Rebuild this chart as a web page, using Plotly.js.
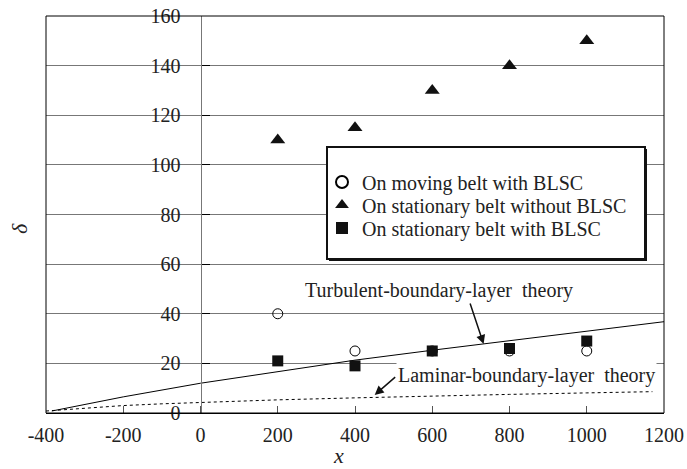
<!DOCTYPE html>
<html>
<head>
<meta charset="utf-8">
<script src="https://cdn.plot.ly/plotly-3.0.1.min.js"></script>
<style>html,body{margin:0;padding:0;background:#fff;}#chart{width:687px;height:469px;}</style>
</head>
<body>
<div id="chart"></div>
<script>
// Measured data
const xPos = [200, 400, 600, 800, 1000];
const movingWithBLSC = [40, 25, 25, 25, 25];
const stationaryWithoutBLSC = [110, 115, 130, 140, 150];
const stationaryWithBLSC = [21, 19, 25, 26, 29];

// Theory curves
const turbX = [-385, -200, 0, 200, 400, 600, 800, 1000, 1200];
const turbY = [0.8, 6.5, 12, 16.8, 21.3, 25.3, 29.2, 33, 36.8];
const lamX = [-400, -300, -200, -100, 0, 200, 400, 600, 800, 1000, 1170];
const lamY = [0.8, 2.0, 3.0, 3.7, 4.3, 5.3, 6.1, 6.9, 7.5, 8.1, 8.6];

const legendNames = ['On moving belt with BLSC', 'On stationary belt without BLSC', 'On stationary belt with BLSC'];
const xTicks = [-400, -200, 0, 200, 400, 600, 800, 1000, 1200];
const yTicks = [0, 20, 40, 60, 80, 100, 120, 140, 160];
const turbLabel = 'Turbulent-boundary-layer&nbsp; theory';
const lamLabel = 'Laminar-boundary-layer&nbsp; theory';

const FONT = 'Liberation Serif, Times New Roman, serif';
const FS = 20;

const traces = [
  {x: turbX, y: turbY, mode: 'lines', line: {color: '#000', width: 1}, showlegend: false, hoverinfo: 'skip'},
  {x: lamX, y: lamY, mode: 'lines', xaxis: 'x2', yaxis: 'y2', line: {color: '#000', width: 1, dash: 'dot'}, showlegend: false, hoverinfo: 'skip'},
  {x: xPos, y: movingWithBLSC, name: legendNames[0], mode: 'markers', legend: 'legend',
   marker: {symbol: 'circle-open', size: 10, color: '#000', line: {width: 1, color: '#000'}}},
  {x: xPos, y: stationaryWithoutBLSC, name: legendNames[1], mode: 'markers', legend: 'legend2',
   marker: {symbol: 'triangle-up', size: 13, color: '#111'}},
  {x: xPos, y: stationaryWithBLSC, name: legendNames[2], mode: 'markers', legend: 'legend3',
   marker: {symbol: 'square', size: 11, color: '#111'}}
];

const W = 618, H = 397;
function legendAt(cy) {
  return {
    x: (322 - 46) / W, y: (413 - cy) / H, xanchor: 'left', yanchor: 'middle',
    bgcolor: 'rgba(0,0,0,0)', borderwidth: 0,
    font: {family: FONT, size: FS, color: '#222'}, itemsizing: 'constant'
  };
}
const layout = {
  width: 687, height: 469,
  margin: {l: 46, r: 23, t: 16, b: 56},
  paper_bgcolor: '#fff', plot_bgcolor: '#fff',
  font: {family: FONT, size: FS, color: '#222'},
  // labelled axes (transparent outside ticks push the labels off the lines)
  xaxis: {
    range: [-400, 1200], tickvals: xTicks, ticktext: xTicks.map(String),
    showgrid: false, zeroline: false, showline: true, linecolor: '#000', linewidth: 1,
    ticks: 'outside', ticklen: 4, tickcolor: 'rgba(0,0,0,0)', tickfont: {family: FONT, size: FS, color: '#222'},
    fixedrange: true
  },
  yaxis: {
    range: [0, 160], tickvals: yTicks, ticktext: yTicks.map(String),
    anchor: 'free', position: 0.25, side: 'left',
    showgrid: true, gridcolor: '#777', gridwidth: 1, zeroline: false,
    showline: true, linecolor: '#777', linewidth: 1,
    ticks: 'outside', ticklen: 16, tickcolor: 'rgba(0,0,0,0)', tickfont: {family: FONT, size: FS, color: '#222'},
    fixedrange: true
  },
  // overlay axes that draw the short inside tick marks
  xaxis2: {
    range: [-400, 1200], tickvals: xTicks, overlaying: 'x', anchor: 'y2',
    showgrid: false, zeroline: false, showline: false, showticklabels: false,
    ticks: 'inside', ticklen: 7, tickcolor: '#555', fixedrange: true
  },
  yaxis2: {
    range: [0, 160], tickvals: yTicks, overlaying: 'y', anchor: 'free', position: 0.25, side: 'left',
    showgrid: false, zeroline: false, showline: false, showticklabels: false,
    ticks: 'inside', ticklen: 8, tickcolor: '#000', fixedrange: true
  },
  showlegend: true,
  legend: legendAt(182),
  legend2: legendAt(205),
  legend3: legendAt(228),
  shapes: [
    {type: 'rect', xref: 'paper', yref: 'paper', x0: 0, x1: 1, y0: 0, y1: 1,
     line: {color: '#000', width: 1}, fillcolor: 'rgba(0,0,0,0)', layer: 'above'},
    {type: 'rect', xref: 'paper', yref: 'paper',
     x0: (329 - 46) / W, x1: (647 - 46) / W, y0: (413 - 261) / H, y1: (413 - 149) / H,
     line: {color: '#111', width: 0}, fillcolor: '#111', layer: 'above'},
    {type: 'rect', xref: 'paper', yref: 'paper',
     x0: (327 - 46) / W, x1: (645 - 46) / W, y0: (413 - 259) / H, y1: (413 - 147) / H,
     line: {color: '#111', width: 2}, fillcolor: '#fff', layer: 'above'}
  ],
  annotations: [
    {xref: 'paper', yref: 'paper', x: (338 - 46) / W, y: (413 - 455) / H, text: '<i>x</i>',
     showarrow: false, font: {family: FONT, size: 22, color: '#222'}, xanchor: 'center', yanchor: 'middle'},
    {xref: 'paper', yref: 'paper', x: (20 - 46) / W, y: (413 - 229) / H, text: '<i>δ</i>',
     showarrow: false, textangle: -90, font: {family: FONT, size: 22, color: '#222'}, xanchor: 'center', yanchor: 'middle'},
    {xref: 'paper', yref: 'paper', x: (303 - 46) / W, y: (413 - 290) / H, text: turbLabel,
     showarrow: false, font: {family: FONT, size: FS, color: '#222'}, xanchor: 'left', yanchor: 'middle', bgcolor: '#fff'},
    {xref: 'paper', yref: 'paper', x: (396 - 46) / W, y: (413 - 375) / H, text: lamLabel,
     showarrow: false, font: {family: FONT, size: FS, color: '#222'}, xanchor: 'left', yanchor: 'middle', bgcolor: '#fff'},
    {x: 733, y: 27.8, xref: 'x', yref: 'y', text: '', showarrow: true, ax: -14, ay: -42,
     arrowhead: 2, arrowsize: 1.2, arrowwidth: 1.5, arrowcolor: '#111', standoff: 0},
    {x: 451, y: 7.3, xref: 'x', yref: 'y', text: '', showarrow: true, ax: 22, ay: -19,
     arrowhead: 2, arrowsize: 1.2, arrowwidth: 1.5, arrowcolor: '#111', standoff: 0}
  ]
};

Plotly.newPlot('chart', traces, layout, {displayModeBar: false, staticPlot: true});
</script>
</body>
</html>
